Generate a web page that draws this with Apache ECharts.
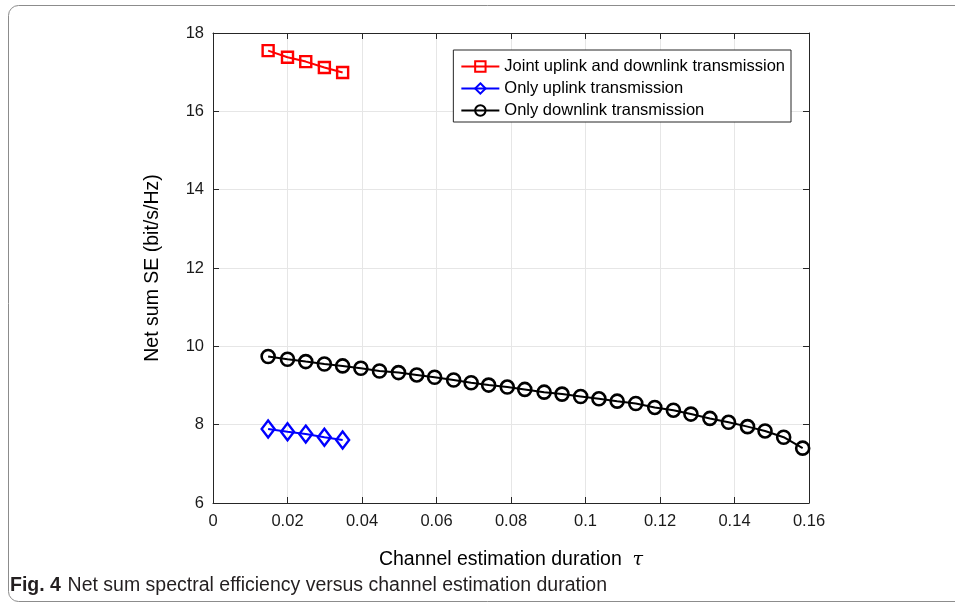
<!DOCTYPE html>
<html>
<head>
<meta charset="utf-8">
<script src="https://cdn.jsdelivr.net/npm/echarts@6/dist/echarts.min.js"></script>
<style>
  html, body { margin: 0; padding: 0; background: #fff; }
  #chart { width: 955px; height: 604px; }
</style>
</head>
<body>
<div id="chart"></div>
<script>
// values
var tauShort = [0.0148, 0.0200, 0.0249, 0.0299, 0.0348];
var jointSE = [17.55, 17.38, 17.27, 17.12, 16.99];
var uplinkSE = [7.89, 7.82, 7.76, 7.68, 7.61];

var tauLong = [0.0148, 0.0200, 0.0249, 0.0299, 0.0348, 0.0397, 0.0447, 0.0498, 0.0547, 0.0595,
  0.0646, 0.0693, 0.0740, 0.0790, 0.0837, 0.0889, 0.0937, 0.0987, 0.1036, 0.1085,
  0.1135, 0.1186, 0.1236, 0.1283, 0.1334, 0.1384, 0.1435, 0.1482, 0.1532, 0.1583];
var downlinkSE = [9.74, 9.67, 9.61, 9.55, 9.50, 9.44, 9.37, 9.33, 9.27, 9.21,
  9.14, 9.07, 9.01, 8.96, 8.90, 8.83, 8.78, 8.72, 8.66, 8.60,
  8.54, 8.44, 8.37, 8.27, 8.16, 8.06, 7.95, 7.84, 7.68, 7.40];

var seriesNames = ['Joint uplink and downlink transmission', 'Only uplink transmission', 'Only downlink transmission'];
var captionBold = 'Fig. 4';
var captionText = 'Net sum spectral efficiency versus channel estimation duration';

function pairs(xs, ys) {
  return xs.map(function (x, i) { return [x, ys[i]]; });
}

var axisColor = '#262626';
var font = '"Liberation Sans", Arial, sans-serif';

function boxAxis(pos, min, max, step) {
  return {
    type: 'value', position: pos, min: min, max: max, interval: step,
    axisLine: { show: true, onZero: false, lineStyle: { color: axisColor, width: 1 } },
    axisTick: { show: true, inside: true, length: 6, lineStyle: { color: axisColor } },
    axisLabel: { show: false },
    splitLine: { show: false }
  };
}

var chart = echarts.init(document.getElementById('chart'));
chart.setOption({
  backgroundColor: '#fff',
  animation: false,
  grid: { left: 213, right: 146, top: 33, bottom: 101 },
  legend: {
    right: 164, top: 50,
    orient: 'vertical',
    backgroundColor: '#fff',
    borderColor: '#262626',
    borderWidth: 1,
    borderRadius: 0,
    padding: [8, 6, 3, 7],
    itemGap: 5,
    itemWidth: 38,
    itemHeight: 13,
    textStyle: { fontFamily: font, fontSize: 16.5, color: '#000' },
    data: seriesNames
  },
  xAxis: [{
    type: 'value', min: 0, max: 0.16, interval: 0.02,
    name: 'Channel estimation duration  {t|τ}',
    nameLocation: 'middle', nameGap: 47,
    nameTextStyle: {
      fontFamily: font, fontSize: 19.5, color: '#000',
      rich: { t: { fontFamily: '"DejaVu Serif", serif', fontStyle: 'italic', fontSize: 19, color: '#000' } }
    },
    axisLine: { show: true, onZero: false, lineStyle: { color: axisColor } },
    axisTick: { show: true, inside: true, length: 6, lineStyle: { color: axisColor } },
    axisLabel: { fontFamily: font, fontSize: 16.5, color: '#1a1a1a', margin: 10 },
    splitLine: { show: true, lineStyle: { color: '#e6e6e6', width: 1 } }
  }, boxAxis('top', 0, 0.16, 0.02)],
  yAxis: [{
    type: 'value', min: 6, max: 18, interval: 2,
    name: 'Net sum SE (bit/s/Hz)',
    nameLocation: 'middle', nameGap: 50,
    nameTextStyle: { fontFamily: font, fontSize: 19.5, color: '#000' },
    axisLine: { show: true, onZero: false, lineStyle: { color: axisColor } },
    axisTick: { show: true, inside: true, length: 6, lineStyle: { color: axisColor } },
    axisLabel: { fontFamily: font, fontSize: 16.5, color: '#1a1a1a', margin: 9 },
    splitLine: { show: true, lineStyle: { color: '#e6e6e6', width: 1 } }
  }, boxAxis('right', 6, 18, 2)],
  series: [{
    name: seriesNames[0], type: 'line', data: pairs(tauShort, jointSE),
    symbol: 'rect', symbolSize: 11,
    lineStyle: { color: '#ff0000', width: 2 },
    itemStyle: { color: 'rgba(255,255,255,0)', borderColor: '#ff0000', borderWidth: 2.4 }
  }, {
    name: seriesNames[1], type: 'line', data: pairs(tauShort, uplinkSE),
    symbol: 'diamond', symbolSize: [13, 17],
    lineStyle: { color: '#0000ff', width: 2 },
    itemStyle: { color: 'rgba(255,255,255,0)', borderColor: '#0000ff', borderWidth: 2.4 }
  }, {
    name: seriesNames[2], type: 'line', data: pairs(tauLong, downlinkSE),
    symbol: 'circle', symbolSize: 13,
    lineStyle: { color: '#000', width: 2 },
    itemStyle: { color: 'rgba(255,255,255,0)', borderColor: '#000', borderWidth: 2.6 }
  }],
  graphic: [{
    type: 'rect', left: 6, top: 3,
    shape: { width: 960, height: 596, r: 10 },
    style: { fill: 'none', stroke: '#8c8c8c', lineWidth: 1 }, silent: true
  }, {
    type: 'text', left: 10, top: 576,
    style: {
      text: '{b|' + captionBold + '}  {n|' + captionText + '}',
      rich: {
        b: { fontFamily: '"Liberation Sans Narrow", "Liberation Sans", sans-serif', fontWeight: 'bold', fontSize: 19.5, fill: '#231f20' },
        n: { fontFamily: '"Liberation Sans Narrow", "Liberation Sans", sans-serif', fontSize: 19.5, fill: '#231f20' }
      }
    }
  }]
});
</script>
</body>
</html>
